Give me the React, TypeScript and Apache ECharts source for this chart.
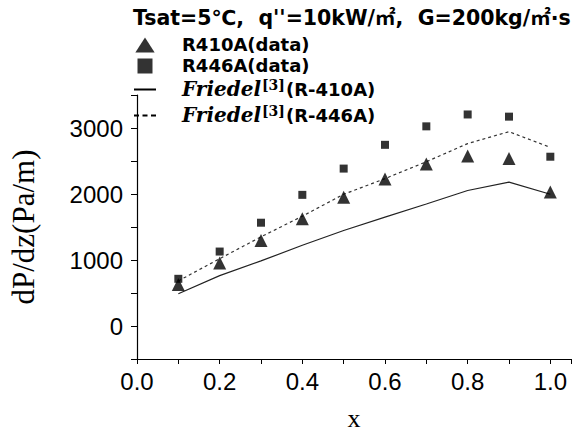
import React, { useEffect, useRef } from "react";
import * as echarts from "echarts";

const xValues = [0.1, 0.2, 0.3, 0.4, 0.5, 0.6, 0.7, 0.8, 0.9, 1.0];
const r410aData = [630, 953, 1294, 1626, 1949, 2229, 2456, 2575, 2536, 2030];
const r446aData = [715, 1128, 1565, 1987, 2385, 2745, 3025, 3205, 3172, 2565];
const friedel410 = [488, 764, 986, 1223, 1447, 1650, 1849, 2053, 2181, 1996];
const friedel446 = [683, 1020, 1351, 1664, 1996, 2233, 2489, 2764, 2944, 2707];

const seriesNames = ["R410A(data)", "R446A(data)", "Friedel[3](R-410A)", "Friedel[3](R-446A)"];
const titleText = "Tsat=5℃,  q''=10kW/㎡,  G=200kg/㎡·s";
const xAxisName = "x";
const yAxisName = "dP/dz(Pa/m)";

const pairs = (vals: number[]) => xValues.map((x, i) => [x, vals[i]]);

const triIcon = "path://M9,0L18,14L0,14Z";
const rectIcon = "path://M0,0h14v14h-14z";
const solidIcon = "path://M0,0h22v2h-22z";
const dashIcon = "path://M0,0h5v2h-5zM8.5,0h5v2h-5zM17,0h5v2h-5z";

const sansBold = "DejaVu Sans, Noto Sans CJK KR, sans-serif";

export default function App() {
  const ref = useRef<HTMLDivElement>(null);
  useEffect(() => {
    if (!ref.current) return;
    const chart = echarts.init(ref.current, null, { renderer: "svg" });
    chart.setOption({
      animation: false,
      backgroundColor: "#ffffff",
      title: {
        text: titleText,
        left: 128,
        top: 3,
        textStyle: {
          fontFamily: sansBold,
          fontWeight: "bold",
          fontSize: 20.5,
          color: "#000",
        },
      },
      legend: {
        orient: "vertical",
        left: 129,
        top: 31,
        itemGap: 3,
        itemWidth: 22,
        itemHeight: 15,
        data: [
          { name: seriesNames[0], icon: triIcon, symbolKeepAspect: true, itemStyle: { color: "#000" } },
          { name: seriesNames[1], icon: rectIcon, symbolKeepAspect: true, itemStyle: { color: "#000" } },
          { name: seriesNames[2], icon: solidIcon, symbolKeepAspect: true, itemStyle: { color: "#000" } },
          { name: seriesNames[3], icon: dashIcon, symbolKeepAspect: true, itemStyle: { color: "#000" } },
        ],
        formatter: (name: string) => {
          if (name.startsWith("Friedel")) {
            const rest = name.slice("Friedel[3]".length);
            return "{f|Friedel}{s|[3]}{b|" + rest + "}";
          }
          return "{b|" + name + "}";
        },
        textStyle: {
          padding: [0, 0, 0, 21],
          rich: {
            b: {
              fontFamily: sansBold,
              fontWeight: "bold",
              fontSize: 18,
              color: "#000",
              lineHeight: 23,
            },
            f: {
              fontFamily: "DejaVu Serif",
              fontWeight: "bold",
              fontStyle: "italic",
              fontSize: 20,
              color: "#000",
              lineHeight: 23,
            },
            s: {
              fontFamily: "DejaVu Serif",
              fontWeight: "bold",
              fontSize: 14,
              color: "#000",
              lineHeight: 23,
              padding: [0, 1, 9, 1],
            },
          },
        },
      },
      grid: { left: 129, right: 0, top: 95, bottom: 60, containLabel: false },
      xAxis: {
        type: "value",
        min: 0,
        max: 1.05,
        interval: 0.1,
        name: xAxisName,
        nameLocation: "middle",
        nameGap: 46,
        nameTextStyle: { fontFamily: "Liberation Serif", fontSize: 26, color: "#000" },
        splitLine: { show: false },
        axisLine: { show: true, onZero: false, lineStyle: { color: "#000", width: 1.2 } },
        axisTick: { show: true, inside: false, length: 5, lineStyle: { color: "#000" } },
        axisLabel: {
          margin: 10,
          fontFamily: "Liberation Sans",
          fontSize: 24,
          color: "#000",
          formatter: (v: number) => {
            const t = Math.round(v * 10);
            if (Math.abs(v * 10 - t) > 1e-6 || t % 2 !== 0 || t > 10) return "";
            return (t / 10).toFixed(1);
          },
        },
      },
      yAxis: {
        type: "value",
        min: -500,
        max: 3500,
        interval: 500,
        name: yAxisName,
        nameLocation: "middle",
        nameGap: 98,
        nameRotate: 90,
        nameTextStyle: { fontFamily: "Liberation Serif", fontSize: 31, color: "#000" },
        splitLine: { show: false },
        axisLine: { show: true, onZero: false, lineStyle: { color: "#000", width: 1.2 } },
        axisTick: { show: true, inside: false, length: 6, lineStyle: { color: "#000" } },
        axisLabel: {
          margin: 14,
          fontFamily: "Liberation Sans",
          fontSize: 24,
          color: "#000",
          formatter: (v: number) => (Math.round(v) % 1000 === 0 ? String(Math.round(v)) : ""),
        },
      },
      series: [
        {
          name: seriesNames[0],
          type: "scatter",
          symbol: "triangle",
          symbolSize: 13,
          itemStyle: { color: "#000" },
          data: pairs(r410aData),
          z: 5,
        },
        {
          name: seriesNames[1],
          type: "scatter",
          symbol: "rect",
          symbolSize: 8,
          itemStyle: { color: "#000" },
          data: pairs(r446aData),
          z: 5,
        },
        {
          name: seriesNames[2],
          type: "line",
          symbol: "none",
          lineStyle: { color: "#222", width: 1.2, type: "solid" },
          itemStyle: { color: "#222" },
          data: pairs(friedel410),
          z: 3,
        },
        {
          name: seriesNames[3],
          type: "line",
          symbol: "none",
          lineStyle: { color: "#333", width: 1.2, type: [3, 3] },
          itemStyle: { color: "#333" },
          data: pairs(friedel446),
          z: 3,
        },
      ],
    });
    return () => chart.dispose();
  }, []);
  return (
    <div
      ref={ref}
      style={{ position: "fixed", left: 0, top: 0, width: 574, height: 436 }}
    />
  );
}
